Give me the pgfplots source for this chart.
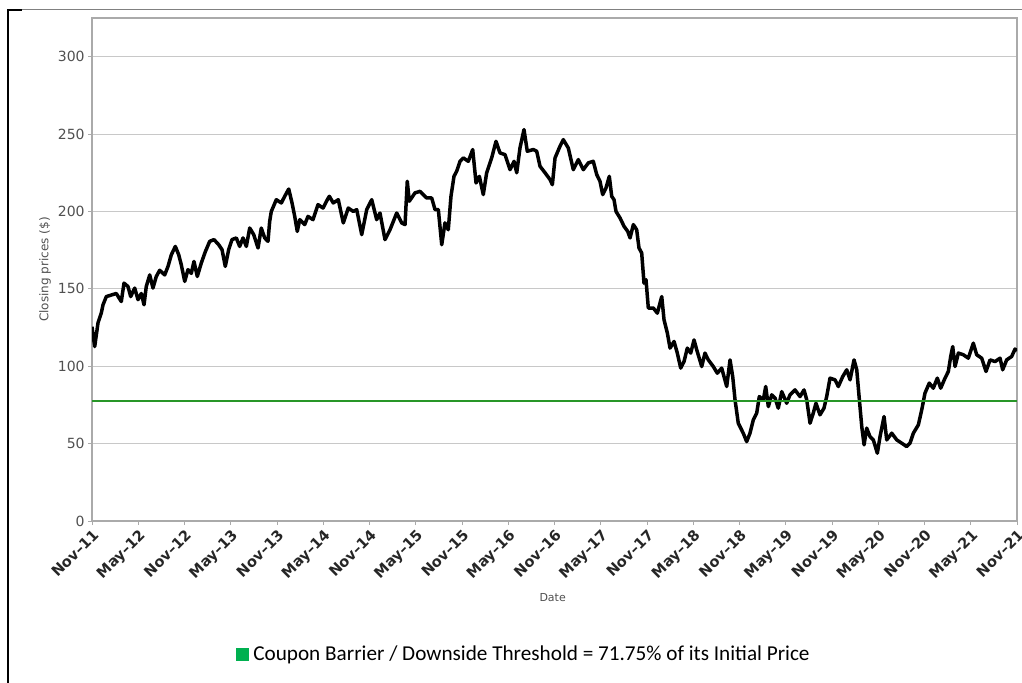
\documentclass[border=0pt]{standalone}
\usepackage{pgfplots}
\usepackage{pgfplotstable}
\usepackage{fontspec}
\pgfplotsset{compat=1.18}
\newfontfamily\dejavu{DejaVu Sans}
\newfontfamily\carlito{Carlito}
\definecolor{barrier}{RGB}{40,150,40}
\definecolor{legsq}{RGB}{0,176,80}
\definecolor{axgray}{RGB}{170,170,170}
\definecolor{gridgray}{RGB}{200,200,200}
\definecolor{txtgray}{RGB}{80,80,80}

\pgfplotstableread{
m v
0.00 125.5
0.35 112.7
0.78 128.0
1.21 134.5
1.43 139.7
1.86 145.0
2.50 146.0
3.15 147.0
3.80 141.8
4.15 153.7
4.67 151.5
5.02 145.0
5.54 150.5
5.97 143.0
6.40 147.0
6.75 139.7
7.04 151.5
7.49 159.0
7.91 150.5
8.34 158.0
8.78 162.0
9.43 159.0
9.86 164.5
10.29 172.0
10.81 177.4
11.25 172.0
11.58 165.6
12.03 154.8
12.45 162.4
12.88 160.0
13.23 167.7
13.66 158.0
14.18 166.7
14.70 174.0
15.27 180.7
15.83 181.8
16.44 178.5
16.87 175.3
17.29 164.5
17.73 175.3
18.16 181.8
18.72 182.9
19.16 177.4
19.59 182.9
20.02 177.4
20.46 189.3
20.98 185.0
21.54 176.4
21.96 189.3
22.40 182.9
22.83 180.7
23.05 193.6
23.26 200.0
23.91 207.6
24.56 205.5
25.00 209.8
25.52 214.5
25.95 205.5
26.30 196.8
26.63 187.1
26.95 194.7
27.59 191.5
28.02 196.8
28.67 194.7
29.32 204.4
29.97 202.2
30.53 207.6
30.79 209.8
31.30 205.5
31.95 207.6
32.60 192.6
33.25 202.2
33.90 200.0
34.34 201.2
34.99 185.0
35.64 201.2
36.29 207.6
36.93 194.7
37.36 199.0
38.01 181.8
38.66 188.2
39.53 199.0
40.18 192.6
40.61 191.5
40.90 219.5
41.16 206.6
41.90 212.0
42.55 213.0
43.42 208.7
44.07 208.7
44.50 201.2
44.93 201.2
45.37 178.5
45.79 192.6
46.22 188.2
46.57 209.8
46.96 222.7
47.31 226.0
47.74 232.4
48.17 234.6
48.82 232.4
49.39 240.0
49.82 218.4
50.25 222.7
50.76 210.9
51.20 225.0
51.85 234.6
52.41 245.3
52.93 237.8
53.58 236.7
54.23 227.0
54.75 232.4
55.10 225.0
55.52 241.0
56.04 252.9
56.47 238.9
57.25 240.0
57.69 238.9
58.12 229.2
58.77 225.0
59.42 220.6
59.72 217.3
60.07 234.6
60.71 242.1
61.14 246.4
61.79 241.0
62.44 227.0
63.09 233.5
63.74 227.0
64.39 231.4
65.03 232.4
65.48 223.8
65.90 219.5
66.25 210.9
66.68 215.2
67.11 222.7
67.42 209.8
67.72 207.6
67.98 200.0
68.50 195.8
69.02 190.4
69.50 187.1
69.80 182.9
70.23 191.5
70.66 188.2
70.96 176.4
71.31 173.2
71.61 153.7
71.87 155.9
72.17 137.6
72.82 137.6
73.34 134.3
73.91 145.0
74.21 130.0
74.64 121.4
74.99 111.7
75.51 116.0
75.93 108.5
76.37 98.8
76.80 103.0
77.23 111.7
77.67 108.5
78.10 117.0
78.45 110.6
79.10 99.8
79.52 108.5
79.95 104.1
80.60 99.8
81.12 95.5
81.69 98.8
82.34 86.9
82.77 104.1
83.12 93.3
83.42 78.3
83.84 63.2
84.49 56.7
84.93 51.3
85.36 56.7
85.79 65.3
86.23 69.7
86.57 80.4
87.09 78.3
87.40 86.9
87.74 73.9
88.18 81.5
88.61 79.4
89.03 72.9
89.48 83.6
90.12 76.1
90.55 81.5
91.20 84.7
91.85 80.4
92.37 84.7
92.72 78.3
93.15 63.2
93.57 69.7
93.92 76.1
94.44 68.6
94.96 72.9
95.31 80.4
95.74 92.3
96.39 91.2
96.82 86.9
97.39 93.3
97.91 97.7
98.34 91.2
98.86 104.1
99.21 97.7
99.55 78.3
99.86 61.0
100.16 49.2
100.50 60.0
100.93 54.5
101.36 52.4
101.88 43.8
102.23 54.5
102.75 67.5
103.10 52.4
103.75 56.7
104.40 52.4
105.04 50.3
105.69 48.1
106.12 50.3
106.55 56.7
107.20 62.1
107.64 71.8
108.06 82.6
108.62 89.1
109.14 85.8
109.66 92.3
110.10 85.8
110.66 92.3
111.09 96.6
111.40 106.3
111.66 112.7
111.96 99.8
112.39 108.5
113.04 107.4
113.68 105.2
114.33 114.9
114.77 107.4
115.42 105.2
115.98 96.6
116.50 104.1
117.15 103.0
117.80 105.2
118.14 97.7
118.66 104.1
119.31 106.3
119.74 111.1
120.00 110.0
}\pricedata

\begin{document}
\begin{tikzpicture}
\useasboundingbox (0,0) rectangle (511pt,-341.5pt);
\draw[black, line width=1pt] (4pt,-5pt) -- (4pt,-341.5pt);
\draw[black, line width=1pt] (3.5pt,-5pt) -- (11pt,-5pt);
\draw[gray, line width=0.5pt] (11pt,-5pt) -- (511pt,-5pt);
\begin{axis}[
  at={(46pt,-260.5pt)}, anchor=south west,
  scale only axis, width=462.5pt, height=251.5pt,
  xmin=0, xmax=120, ymin=0, ymax=325,
  axis line style={axgray, line width=0.6pt},
  ymajorgrids, grid style={gridgray, line width=0.5pt},
  xtick={0,6,...,120},
  xticklabels={Nov–11,May–12,Nov–12,May–13,Nov–13,May–14,Nov–14,May–15,Nov–15,May–16,Nov–16,May–17,Nov–17,May–18,Nov–18,May–19,Nov–19,May–20,Nov–20,May–21,Nov–21},
  ytick={0,50,100,150,200,250,300},
  xtick pos=bottom, ytick pos=left,
  tick align=outside, major tick length=2pt,
  tick style={axgray, line width=0.5pt},
  /pgf/number format/assume math mode=true,
  yticklabel style={font=\dejavu\fontsize{7}{8}\selectfont, text=txtgray, inner sep=1.5pt},
  xticklabel style={font=\dejavu\bfseries\fontsize{7.3}{8}\selectfont, text=black!85, rotate=45, anchor=north east, inner sep=1pt},
  xlabel={Date},
  xlabel style={font=\dejavu\fontsize{5.5}{6}\selectfont, text=txtgray, at={(axis description cs:0.498,-0.153)}, anchor=center},
  ylabel={Closing prices (\$)},
  ylabel style={font=\dejavu\fontsize{6}{7}\selectfont, text=txtgray, at={(axis description cs:-0.0508,0.5)}, anchor=center, rotate=0},
  legend style={at={(axis description cs:0.468,-0.266)}, anchor=center, draw=none, fill=none, font=\carlito\fontsize{10.6}{12}\selectfont, inner sep=0pt},
  legend cell align=left,
]
\addplot[black, line width=1.75pt, line join=round, forget plot] table[x=m, y=v] {\pricedata};
\addplot[barrier, line width=1pt, legend image code/.code={\fill[legsq] (0pt,-2.8pt) rectangle (5.6pt,2.8pt);}] coordinates {(0,77.6) (120,77.6)};
\addlegendentry{Coupon Barrier / Downside Threshold = 71.75\% of its Initial Price}
\end{axis}
\end{tikzpicture}
\end{document}
